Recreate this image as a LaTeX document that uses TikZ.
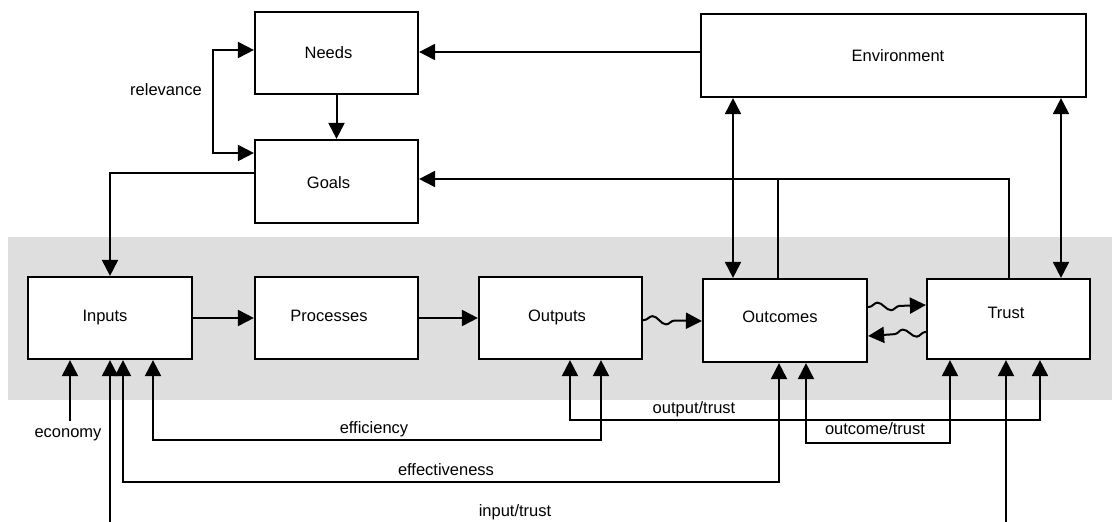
\documentclass[tikz,border=0pt]{standalone}
\usepackage{fontspec}
\setmainfont{Liberation Sans}
\usetikzlibrary{arrows.meta,decorations.pathmorphing}
\definecolor{bandgray}{HTML}{DEDEDE}
\begin{document}
\begin{tikzpicture}[x=1pt,y=-1pt,
  font=\fontsize{16.5}{19}\selectfont,
  >={Triangle[length=16pt,width=16pt]},
  box/.style={draw, line width=2.2pt, fill=white, minimum width=163pt,
    minimum height=82pt, inner sep=0pt},
  link/.style={line width=2pt},
  wavy/.style={link, ->, decorate, decoration={snake, amplitude=4pt,
    segment length=27pt, pre length=1pt, post length=16pt}},
  lbl/.style={inner sep=1pt}]
\useasboundingbox (0,0) rectangle (1112,522);

% shaded band behind the main chain
\fill[bandgray] (8,237) rectangle (1112,400);

% boxes, each with its caption placed a little off centre
\node[box, label={[xshift=-8pt]center:Needs}] (needs) at (336.5,53) {};
\node[box, minimum height=83pt, label={[xshift=-8pt,yshift=-1.5pt]center:Goals}] (goals) at (336.5,181.5) {};
\node[box, minimum width=385pt, minimum height=83pt, label={[xshift=4.5pt]center:Environment}] (env) at (893.5,55.5) {};
\node[box, minimum width=164pt, label={[xshift=-5pt]center:Inputs}] (inputs) at (110,318) {};
\node[box, label={[xshift=-7.5pt,yshift=2pt]center:Processes}] (proc) at (336.5,318) {};
\node[box, label={[xshift=-3.5pt,yshift=1pt]center:Outputs}] (outputs) at (560.5,318) {};
\node[box, minimum width=164pt, minimum height=83pt, label={[xshift=-5pt,yshift=3.5pt]center:Outcomes}] (outcomes) at (785,320.5) {};
\node[box, minimum height=80pt, label={[xshift=-2.5pt,yshift=6pt]center:Trust}] (trust) at (1008.5,319) {};

% upper links
\draw[link, ->] (env.west |- 0,52) -- (needs.east |- 0,52);
\draw[link, ->] (needs.south) -- (goals.north);
\draw[link, <->] (needs.west |- 0,50) -| (213,153) -- (goals.west |- 0,153);
\node[lbl] (relevance) at (166,90) {relevance};
\draw[link, ->] (goals.west |- 0,173) -| (inputs.north);
\coordinate (jn) at (778,179);
\draw[link, ->] (outcomes.north -| jn) -- (jn) -- (goals.east |- jn);
\draw[link] (trust.north -| 1009,0) |- (jn);
\draw[link, <->] (env.south -| 733,0) -- (outcomes.north -| 733,0);
\draw[link, <->] (env.south -| 1061,0) -- (trust.north -| 1061,0);

% main chain
\draw[link, ->] (inputs.east) -- (proc.west);
\draw[link, ->] (proc.east) -- (outputs.west);
\draw[wavy] (outputs.east |- 0,320) -- (outcomes.west |- 0,321);
\draw[wavy] (outcomes.east |- 0,307) -- (trust.west |- 0,305);
\draw[wavy] (trust.west |- 0,332) -- (outcomes.east |- 0,336);

% measures below the chain
\coordinate (eco) at (70,421);
\draw[link, ->] (eco) -- (inputs.south -| eco);
\node[lbl] (economy) at (68,435) {economy};

\draw[link, <->] (inputs.south -| 153,0) |- (601,440) -- (outputs.south -| 601,0);
\node[lbl] (efficiency) at (374,429) {efficiency};

\draw[link, <->] (inputs.south -| 123,0) |- (779,482) -- (outcomes.south -| 779,0);
\node[lbl] (effectiveness) at (446,470) {effectiveness};

\draw[link, <->] (outputs.south -| 570,0) |- (1040,420) -- (trust.south -| 1040,0);
\node[lbl] (outputtrust) at (694,409) {output/trust};

\draw[link, <->] (outcomes.south -| 806,0) |- (950,443) -- (trust.south -| 950,0);
\node[lbl] (outcometrust) at (875,429) {outcome/trust};

\begin{scope}
  \clip (0,0) rectangle (1112,522);
  \draw[link, <->] (inputs.south -| 110,0) |- (1006,545) -- (trust.south -| 1006,0);
\end{scope}
\node[lbl] (inputtrust) at (515,512) {input/trust};
\end{tikzpicture}
\end{document}
